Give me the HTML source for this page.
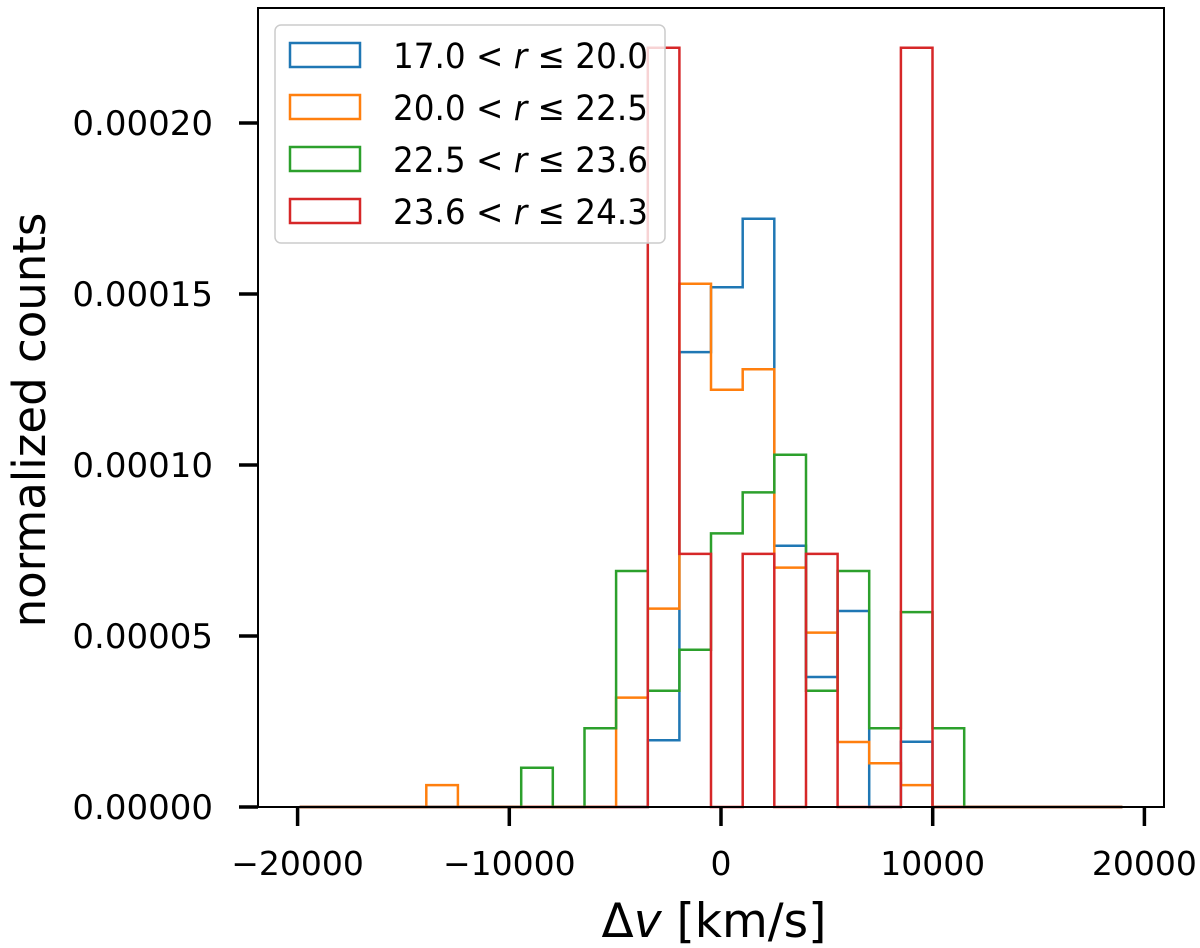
<!DOCTYPE html>
<html><head><meta charset="utf-8"><style>
html,body{margin:0;padding:0;background:#fff;}
svg{display:block;font-family:"DejaVu Sans","Liberation Sans",sans-serif;}
</style></head><body>
<svg id="chart" width="1200" height="948" viewBox="0 0 1200 948" xmlns="http://www.w3.org/2000/svg">
<g id="marks"></g>
<g id="axes"></g>
<g id="legend"></g>
</svg>
<script>
const binStart = -19900;
const binWidth = 1494.6;
const seriesLabels = ["17.0 < r ≤ 20.0","20.0 < r ≤ 22.5","22.5 < r ≤ 23.6","23.6 < r ≤ 24.3"];
const seriesColors = ["#1f77b4","#ff7f0e","#2ca02c","#d62728"];
const blueCounts   = [0,0,0,0,0,0,0,0,0,0,0,0.0000195,0.000133,0.000152,0.000172,0.0000764,0.000038,0.0000573,0,0.0000191,0,0,0,0,0,0];
const orangeCounts = [0,0,0,0,0.0000064,0,0,0,0,0,0.000032,0.000058,0.000153,0.000122,0.000128,0.000070,0.000051,0.000019,0.0000128,0.0000064,0,0,0,0,0,0];
const greenCounts  = [0,0,0,0,0,0,0,0.0000115,0,0.000023,0.000069,0.000034,0.000046,0.000080,0.000092,0.000103,0.000034,0.000069,0.000023,0.000057,0.000023,0,0,0,0,0];
const redCounts    = [0,0,0,0,0,0,0,0,0,0,0,0.000222,0.000074,0,0.000074,0,0.000074,0,0,0.000222,0,0,0,0,0,0];
const xTicks = [-20000,-10000,0,10000,20000];
const xTickLabels = ["−20000","−10000","0","10000","20000"];
const yTicks = [0,0.00005,0.0001,0.00015,0.0002];
const yTickLabels = ["0.00000","0.00005","0.00010","0.00015","0.00020"];

const NS="http://www.w3.org/2000/svg";
const X0=258,X1=1164,Y0=8,Y1=807;
function xs(v){return 721+v*0.02117;}
function ys(v){return 807-v*3420000;}
function mk(tag,attrs,parent){const e=document.createElementNS(NS,tag);for(const k in attrs)e.setAttribute(k,attrs[k]);parent.appendChild(e);return e;}

const marks=document.getElementById('marks');
const allSeries=[blueCounts,orangeCounts,greenCounts,redCounts];
const seriesNames=['blue-series-17-20','orange-series-20-22.5','green-series-22.5-23.6','red-series-23.6-24.3'];
allSeries.forEach((counts,s)=>{
  let pts=[[xs(binStart),ys(0)]];
  counts.forEach((c,i)=>{
    const a=xs(binStart+i*binWidth),b=xs(binStart+(i+1)*binWidth);
    pts.push([a,ys(c)]);pts.push([b,ys(c)]);
  });
  pts.push([xs(binStart+counts.length*binWidth),ys(0)]);
  const p=mk('polyline',{points:pts.map(p=>p[0].toFixed(1)+','+p[1].toFixed(1)).join(' '),fill:'none',stroke:seriesColors[s],'stroke-width':2.5},marks);
  
  
});

const axes=document.getElementById('axes');
const fr=mk('rect',{x:X0,y:Y0,width:X1-X0,height:Y1-Y0,fill:'none',stroke:'#000','stroke-width':2},axes);


xTicks.forEach((t,i)=>{
  const x=xs(t);
  const l=mk('line',{x1:x,y1:Y1,x2:x,y2:Y1+19,stroke:'#000','stroke-width':3.5},axes);
  
  
  const tx=mk('text',{x:x,y:875,'text-anchor':'middle','font-size':33,fill:'#000'},axes);
  tx.textContent=xTickLabels[i];
  
  
});
yTicks.forEach((t,i)=>{
  const y=ys(t);
  const l=mk('line',{x1:X0-19,y1:y,x2:X0,y2:y,stroke:'#000','stroke-width':3.5},axes);
  
  
  const tx=mk('text',{x:213,y:y+12,'text-anchor':'end','font-size':34,fill:'#000'},axes);
  tx.textContent=yTickLabels[i];
  
  
});
const xl=mk('text',{x:714,y:937,'text-anchor':'middle','font-size':47,fill:'#000'},axes);
xl.innerHTML='Δ<tspan font-style="italic">v</tspan> [km/s]';


const yl=mk('text',{x:0,y:0,'text-anchor':'middle','font-size':45,fill:'#000',transform:'translate(45,420) rotate(-90)'},axes);
yl.textContent='normalized counts';



const lg=document.getElementById('legend');
const lb=mk('rect',{x:275,y:25,width:390,height:218,rx:6,fill:'#fff','fill-opacity':0.8,stroke:'#ccc','stroke-width':1.5},lg);


seriesLabels.forEach((lab,i)=>{
  const cy=55+i*52;
  const r=mk('rect',{x:290,y:cy-12,width:70,height:24,fill:'none',stroke:seriesColors[i],'stroke-width':2.5},lg);
  
  
  const parts=lab.split(' r ');
  const t=mk('text',{x:393,y:cy+13,'font-size':35,fill:'#000',textLength:255,lengthAdjust:'spacingAndGlyphs'},lg);
  t.innerHTML=parts[0]+' <tspan font-style="italic">r</tspan> '+parts[1];
  
  
});
</script>
</body></html>
